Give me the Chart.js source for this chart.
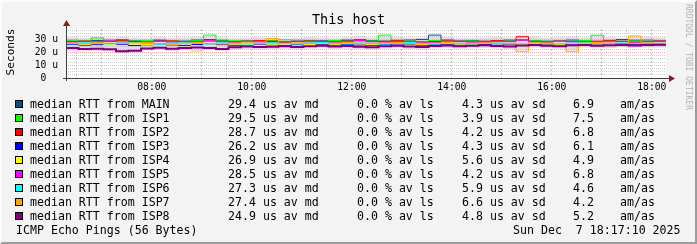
<!DOCTYPE html>
<html>
<head>
<meta charset="utf-8">
<script src="https://cdn.jsdelivr.net/npm/chart.js@4.4.1/dist/chart.umd.min.js"></script>
<style>
  body { margin: 0; background: #f3f3f3; }
  #graph { position: relative; width: 697px; height: 244px; background: #f3f3f3; overflow: hidden;
           font-family: 'DejaVu Sans Mono', monospace; color: #000; }
  #frame { position: absolute; left: 0; top: 0; width: 697px; height: 244px; box-sizing: border-box;
           border-top: 2px solid #fcfcfc; border-left: 2px solid #fcfcfc;
           border-right: 2px solid #9c9c9c; border-bottom: 2px solid #9c9c9c; pointer-events: none; }
  #plot { position: absolute; left: 0; top: 0; width: 697px; height: 100px; }
  .txt { position: absolute; white-space: pre; line-height: 14px; font-size: 11.6px; }
  .sw { position: absolute; width: 8px; height: 8px; box-sizing: border-box; border: 1px solid #000; }
  #title { position: absolute; left: 0; width: 697px; top: 11px; text-align: center; font-size: 13.5px; line-height: 16px; }
  #ylab { position: absolute; left: 11px; top: 52px; font-size: 11.1px; line-height: 12px; white-space: pre;
          transform: translate(-50%, -50%) rotate(-90deg); }
  #wm { position: absolute; left: 688px; top: 4px; font-size: 8px; line-height: 9px; color: #b4b4b4; white-space: pre;
        transform-origin: 0 0; transform: translate(5px, 0) rotate(90deg); }
</style>
</head>
<body>
<div id="graph">
  <div id="plot"><canvas id="chartRtt"></canvas></div>
  <div id="title">This host</div>
  <div id="ylab">Seconds</div>
  <div id="wm">RRDTOOL / TOBI OETIKER</div>
  <div id="legenda"></div>
  <div id="frame"></div>
</div>
<script>
// horários de início de cada intervalo de 15 min
const horarios = ['06:17','06:32','06:47','07:02','07:17','07:32','07:47','08:02','08:17','08:32','08:47','09:02',
  '09:17','09:32','09:47','10:02','10:17','10:32','10:47','11:02','11:17','11:32','11:47','12:02',
  '12:17','12:32','12:47','13:02','13:17','13:32','13:47','14:02','14:17','14:32','14:47','15:02',
  '15:17','15:32','15:47','16:02','16:17','16:32','16:47','17:02','17:17','17:32','17:47','18:02'];
const horarioFim = '18:17';

const origens = ['MAIN','ISP1','ISP2','ISP3','ISP4','ISP5','ISP6','ISP7','ISP8'];
const cores = ['#0f4c81','#00ff00','#ff0000','#0000ff','#ffff00','#ff00ff','#00ffff','#ffa500','#800080'];

// mediana do RTT (microssegundos)
const rttMain = [29.0,28.5,29.5,29.0,30.0,29.2,28.8,29.5,28.4,29.0,29.8,30.2,29.5,28.8,29.2,29.0,28.6,28.2,28.8,29.5,29.3,28.9,29.6,30.1,
  29.4,29.0,28.7,29.8,30.3,33.7,30.0,29.2,29.5,28.8,29.1,29.7,30.0,29.3,28.9,29.4,29.8,29.2,28.7,29.5,30.2,29.6,29.0,28.9];
const rttIsp1 = [29.8,29.2,31.5,30.0,29.4,29.0,29.6,30.2,29.1,28.8,29.5,33.7,29.8,29.2,29.0,28.6,29.4,30.0,29.7,29.1,28.9,29.5,30.1,29.3,
  29.0,33.7,29.6,29.2,28.8,29.4,30.0,29.5,29.1,28.7,29.3,29.9,29.6,29.2,28.9,29.5,30.2,29.4,33.6,29.7,29.1,29.8,30.1,29.5];
const rttIsp2 = [28.5,29.0,28.2,28.8,29.3,28.6,28.0,28.9,29.2,28.4,28.7,29.1,28.5,28.1,28.8,29.4,28.9,28.3,28.6,29.0,28.7,28.2,28.9,29.3,
  28.5,28.8,29.6,28.4,28.1,28.7,29.2,28.6,28.3,28.9,29.4,28.8,32.4,28.5,28.2,29.0,28.7,28.4,28.9,29.3,28.6,28.2,28.8,29.1];
const rttIsp3 = [26.5,25.8,26.2,27.0,26.4,25.5,26.1,26.8,26.0,25.6,26.3,26.9,26.2,25.7,26.0,26.6,26.1,25.4,26.2,26.7,26.3,25.9,26.5,26.0,
  25.6,26.2,26.8,26.4,25.8,26.1,26.6,26.0,25.5,26.3,26.9,26.2,25.7,26.0,26.5,26.1,25.8,26.4,26.7,26.0,25.6,26.3,26.8,26.2];
const rttIsp4 = [27.2,26.5,27.0,26.4,27.5,26.8,26.2,27.1,26.6,27.3,20.6,26.9,27.4,26.7,26.3,27.0,26.5,27.2,26.9,26.4,27.1,26.6,27.3,26.8,
  26.2,27.0,27.5,26.7,26.3,26.9,27.2,26.6,26.1,27.0,27.4,26.8,26.5,27.1,26.7,26.3,27.0,27.3,26.8,26.4,27.1,26.9,26.6,27.2];
const rttIsp5 = [28.2,28.8,28.5,29.1,28.3,27.9,28.6,29.0,28.4,28.0,28.7,29.2,28.5,28.1,28.8,28.3,27.8,28.6,29.0,28.4,28.9,28.2,28.7,29.3,
  28.6,28.1,28.5,28.9,28.3,27.9,28.6,29.1,28.4,28.0,28.8,28.5,29.6,28.2,28.7,29.0,28.4,28.1,28.8,28.5,28.9,28.3,28.6,29.0];
const rttIsp6 = [27.0,27.6,27.2,26.8,27.5,27.9,27.1,26.7,27.4,27.8,27.2,26.9,27.5,27.0,26.6,27.3,27.7,27.1,26.8,27.4,27.9,27.2,26.9,27.5,
  27.1,26.7,27.3,27.8,27.2,26.8,27.4,27.0,26.6,27.3,27.7,27.1,26.9,27.5,27.2,26.8,27.4,27.9,27.3,26.9,27.5,27.1,27.6,27.2];
const rttIsp7 = [27.5,27.0,27.8,27.3,26.9,27.6,28.0,27.2,26.8,27.4,27.9,27.1,26.7,27.5,28.1,27.3,31.0,27.0,27.6,27.2,26.8,27.4,27.9,27.3,
  26.9,27.5,27.8,27.1,26.7,27.4,28.0,27.2,26.9,27.6,27.3,27.0,21.0,27.7,27.2,26.8,21.0,27.5,27.9,27.3,27.0,33.0,27.6,27.2];
const rttIsp8 = [23.5,22.8,23.0,22.5,21.0,21.5,23.2,23.8,22.9,23.5,24.0,23.6,22.7,24.2,24.8,24.3,24.6,25.0,24.4,24.9,25.3,24.7,25.1,24.5,
  24.2,25.0,25.4,24.8,24.4,25.2,25.6,24.9,25.3,25.8,25.2,24.7,25.5,25.9,25.4,25.0,25.7,26.0,25.3,25.8,26.1,25.6,25.9,26.2];
const series = [rttMain, rttIsp1, rttIsp2, rttIsp3, rttIsp4, rttIsp5, rttIsp6, rttIsp7, rttIsp8];

// "fumaça" (dispersão dos pings)
const fumacaMax = [32.0,31.5,32.5,31.8,32.2,31.6,31.2,32.0,31.4,31.8,32.5,32.8,31.9,31.3,31.7,32.1,31.5,31.0,31.6,32.2,31.8,31.4,32.0,32.6,
  31.9,33.0,32.3,31.7,31.9,32.8,32.2,31.6,31.4,31.9,32.3,31.8,33.5,32.4,31.6,32.1,32.5,31.9,32.7,32.0,31.5,32.4,32.2,31.8];
const fumacaMin = [21.5,21.0,21.2,20.8,19.8,20.2,21.6,22.0,21.3,21.8,20.5,22.0,21.2,22.4,22.8,22.3,22.6,23.0,22.5,22.9,23.2,22.7,23.0,22.5,
  22.3,23.0,23.3,22.8,22.4,23.1,23.5,22.9,23.2,23.6,23.1,22.7,22.0,23.7,23.2,22.9,22.0,23.8,23.2,23.6,23.9,23.4,23.7,24.0];

// valores da legenda
const medianaMedia = ['29.4','29.5','28.7','26.2','26.9','28.5','27.3','27.4','24.9'];
const perdaMedia = ['0.0','0.0','0.0','0.0','0.0','0.0','0.0','0.0','0.0'];
const desvioMedio = ['4.3','3.9','4.2','4.3','5.6','4.2','5.9','6.6','4.8'];
const razaoAmAs = ['6.9','7.5','6.8','6.1','4.9','6.8','4.6','4.2','5.2'];

const yTicks = [0, 10, 20, 30];
const yTickLabels = ['0  ', '10 u', '20 u', '30 u'];
const xTickLabels = ['08:00', '10:00', '12:00', '14:00', '16:00', '18:00'];

const paraMin = s => { const p = s.split(':').map(Number); return p[0] * 60 + p[1]; };
const paraHora = m => String(Math.floor(m / 60)).padStart(2, '0') + ':' + String(m % 60).padStart(2, '0');

function pontos(vals) {
  const pts = horarios.map((h, i) => ({ x: paraMin(h), y: vals[i] }));
  pts.push({ x: paraMin(horarioFim), y: vals[vals.length - 1] });
  return pts;
}

function montarLegenda() {
  const el = document.getElementById('legenda');
  let html = '';
  origens.forEach((o, i) => {
    const top = 97 + 14 * i;
    html += `<div class="sw" style="left:15px;top:${top + 3}px;background:${cores[i]}"></div>`;
    html += `<div class="txt" style="left:30px;top:${top}px">median RTT from ${o}</div>`;
    html += `<div class="txt" style="left:228px;top:${top}px">${medianaMedia[i]} us av md</div>`;
    html += `<div class="txt" style="left:357px;top:${top}px">${perdaMedia[i]} % av ls</div>`;
    html += `<div class="txt" style="left:462px;top:${top}px">${desvioMedio[i]} us av sd</div>`;
    html += `<div class="txt" style="left:573px;top:${top}px">${razaoAmAs[i]}</div>`;
    html += `<div class="txt" style="left:620px;top:${top}px">am/as</div>`;
  });
  html += `<div class="txt" style="left:16px;top:223px">ICMP Echo Pings (56 Bytes)</div>`;
  html += `<div class="txt" style="left:513px;top:223px">Sun Dec  7 18:17:10 2025</div>`;
  el.innerHTML = html;
}

const fundoPlot = {
  id: 'fundoPlot',
  beforeDraw(chart) {
    const { ctx, chartArea: a } = chart;
    ctx.save();
    ctx.fillStyle = '#ffffff';
    ctx.fillRect(a.left, a.top, a.right - a.left, a.bottom - a.top);
    ctx.restore();
  },
  afterDraw(chart) {
    const { ctx, chartArea: a } = chart;
    ctx.save();
    ctx.strokeStyle = '#404040';
    ctx.lineWidth = 1;
    ctx.beginPath();
    ctx.moveTo(a.left - 3, a.bottom + 0.5);
    ctx.lineTo(a.right + 4, a.bottom + 0.5);
    ctx.moveTo(a.left + 0.5, a.bottom + 3);
    ctx.lineTo(a.left + 0.5, a.top - 4);
    ctx.stroke();
    ctx.fillStyle = '#8b1a1a';
    ctx.beginPath();
    ctx.moveTo(a.right + 9, a.bottom + 0.5);
    ctx.lineTo(a.right + 3, a.bottom - 3);
    ctx.lineTo(a.right + 3, a.bottom + 4);
    ctx.closePath();
    ctx.fill();
    ctx.beginPath();
    ctx.moveTo(a.left + 0.5, a.top - 9);
    ctx.lineTo(a.left - 3, a.top - 3);
    ctx.lineTo(a.left + 4, a.top - 3);
    ctx.closePath();
    ctx.fill();
    ctx.restore();
  }
};

function inicializar() {
  montarLegenda();
  const datasets = [];
  datasets.push({ data: pontos(fumacaMax), stepped: true, borderWidth: 0, pointRadius: 0,
                  backgroundColor: 'rgba(215,185,210,0.55)', fill: '+1', order: 20 });
  datasets.push({ data: pontos(fumacaMin), stepped: true, borderWidth: 0, pointRadius: 0, fill: false, order: 21 });
  series.forEach((vals, i) => {
    datasets.push({ data: pontos(vals), stepped: true, borderColor: cores[i], borderWidth: i === 8 ? 2 : 1,
                    pointRadius: 0, fill: false, order: 9 - i });
  });

  const ctx = document.getElementById('chartRtt').getContext('2d');
  new Chart(ctx, {
    type: 'line',
    data: { datasets },
    plugins: [fundoPlot],
    options: {
      responsive: true,
      maintainAspectRatio: false,
      animation: false,
      layout: { padding: { left: 0, right: 31, top: 29, bottom: 0 } },
      plugins: { legend: { display: false }, tooltip: { enabled: false } },
      scales: {
        x: {
          type: 'linear',
          min: paraMin(horarios[0]),
          max: paraMin(horarioFim),
          afterFit: s => { s.height = 22; },
          afterBuildTicks: s => {
            const t = [];
            for (let m = 390; m <= 1080; m += 30) t.push({ value: m });
            s.ticks = t;
          },
          border: { display: false, dash: c => (c.tick && c.tick.value % 60 === 0) ? [2, 2] : [1, 1] },
          grid: { drawTicks: false, lineWidth: 1,
                  color: c => (c.tick && c.tick.value % 60 === 0) ? 'rgba(230,110,110,0.55)' : 'rgba(180,180,180,0.7)' },
          ticks: { padding: 4, maxRotation: 0, autoSkip: false, color: '#000',
                   font: { family: 'DejaVu Sans Mono', size: 9.7 },
                   callback: v => xTickLabels.includes(paraHora(v)) ? paraHora(v) : '' }
        },
        y: {
          min: 0,
          max: 38.5,
          afterFit: s => { s.width = 66; },
          afterBuildTicks: s => {
            const t = [];
            for (let v = 0; v <= 38; v += 2.5) t.push({ value: v });
            s.ticks = t;
          },
          border: { display: false, dash: [1, 1] },
          grid: { drawTicks: false, lineWidth: 1,
                  color: c => (c.tick && yTicks.includes(c.tick.value)) ? 'rgba(230,110,110,0.55)' : 'rgba(180,180,180,0.7)' },
          ticks: { padding: 8, autoSkip: false, color: '#000',
                   font: { family: 'DejaVu Sans Mono', size: 9.7 },
                   callback: v => { const k = yTicks.indexOf(v); return k >= 0 ? yTickLabels[k] : ''; } }
        }
      }
    }
  });
}

window.onload = inicializar;
</script>
</body>
</html>
